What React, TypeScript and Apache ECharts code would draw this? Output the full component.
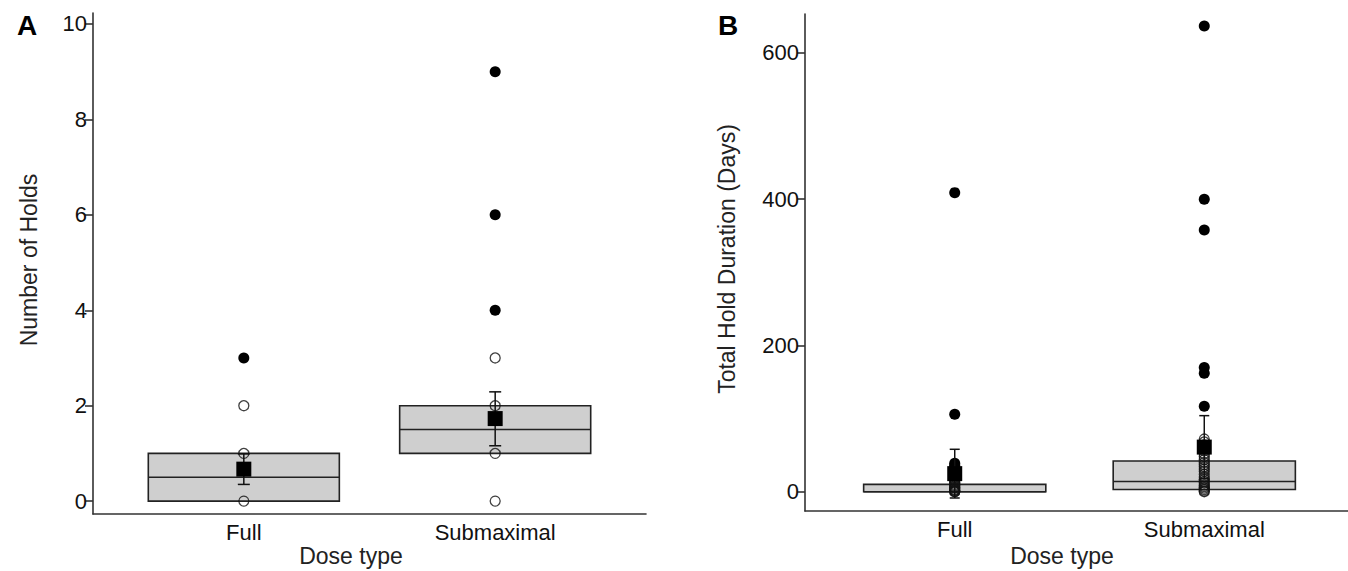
import React, { useEffect, useRef } from "react";
import * as echarts from "echarts";

// ---------- data ----------
const categories = ["Full", "Submaximal"];

// Panel A: Number of Holds
const holdsBox = [
  [0, 0.5, 1], // q1, median, q3 (Full)
  [1, 1.5, 2], // Submaximal
];
const holdsPointsFull = [0, 1, 2];
const holdsPointsSub = [0, 1, 2, 3];
const holdsOutliersFull = [3];
const holdsOutliersSub = [4, 6, 9];
const holdsMean = [0.67, 1.73];
const holdsErr = [
  [0.35, 0.99],
  [1.16, 2.29],
];
const holdsTicks = [0, 2, 4, 6, 8, 10];

// Panel B: Total Hold Duration (Days)
const durBox = [
  [0, 0, 10],
  [3, 14, 42],
];
const durPointsFull = [0, 0, 1, 2, 3, 5, 6, 8, 10, 12, 14, 16, 18, 20, 22, 24];
const durPointsSub = [0, 1, 3, 5, 7, 9, 12, 14, 17, 20, 24, 28, 31, 34, 37, 40, 44, 48, 52, 56, 60, 64, 68, 72];
const durOutliersFull = [27, 29, 31, 33, 36, 39, 106, 409];
const durOutliersSub = [117, 162, 170, 358, 400, 637];
const durMean = [24.7, 61];
const durErr = [
  [-8.6, 58],
  [18, 104],
];
const durTicks = [0, 200, 400, 600];

const FONT = "'Liberation Sans', Arial, sans-serif";
const TXT = "#111";
const AX = "#333";

function boxSeries(box: number[][], gi: number, halfW: number) {
  return {
    type: "custom",
    xAxisIndex: gi,
    yAxisIndex: gi,
    z: 1,
    data: box.map((b, i) => [i + 1, b[0], b[1], b[2]]),
    renderItem: (params: any, api: any) => {
      const x = api.value(0);
      const q1 = api.value(1);
      const med = api.value(2);
      const q3 = api.value(3);
      const tl = api.coord([x - halfW, q3]);
      const br = api.coord([x + halfW, q1]);
      const ml = api.coord([x - halfW, med]);
      const mr = api.coord([x + halfW, med]);
      return {
        type: "group",
        children: [
          {
            type: "rect",
            shape: { x: tl[0], y: tl[1], width: br[0] - tl[0], height: br[1] - tl[1] },
            style: { fill: "#cfcfcf", stroke: "#222", lineWidth: 1.6 },
          },
          {
            type: "line",
            shape: { x1: ml[0], y1: ml[1], x2: mr[0], y2: mr[1] },
            style: { stroke: "#222", lineWidth: 1.6 },
          },
        ],
      };
    },
  };
}

function errSeries(err: number[][], gi: number, capPx: number) {
  return {
    type: "custom",
    xAxisIndex: gi,
    yAxisIndex: gi,
    z: 5,
    data: err.map((e, i) => [i + 1, e[0], e[1]]),
    renderItem: (params: any, api: any) => {
      const x = api.value(0);
      const lo = api.coord([x, api.value(1)]);
      const hi = api.coord([x, api.value(2)]);
      const st = { stroke: "#111", lineWidth: 1.5 };
      return {
        type: "group",
        children: [
          { type: "line", shape: { x1: lo[0], y1: lo[1], x2: hi[0], y2: hi[1] }, style: st },
          { type: "line", shape: { x1: lo[0] - capPx, y1: lo[1], x2: lo[0] + capPx, y2: lo[1] }, style: st },
          { type: "line", shape: { x1: hi[0] - capPx, y1: hi[1], x2: hi[0] + capPx, y2: hi[1] }, style: st },
        ],
      };
    },
  };
}

function openPoints(full: number[], sub: number[], gi: number) {
  return {
    type: "scatter",
    xAxisIndex: gi,
    yAxisIndex: gi,
    z: 3,
    symbol: "circle",
    symbolSize: 10,
    itemStyle: { color: "rgba(255,255,255,0)", borderColor: "#111", borderWidth: 1.3 },
    data: [...full.map((v) => [1, v]), ...sub.map((v) => [2, v])],
  };
}

function filledPoints(full: number[], sub: number[], gi: number) {
  return {
    type: "scatter",
    xAxisIndex: gi,
    yAxisIndex: gi,
    z: 4,
    symbol: "circle",
    symbolSize: 11,
    itemStyle: { color: "#000", opacity: 1 },
    data: [...full.map((v) => [1, v]), ...sub.map((v) => [2, v])],
  };
}

function meanPoints(mean: number[], gi: number) {
  return {
    type: "scatter",
    xAxisIndex: gi,
    yAxisIndex: gi,
    z: 6,
    symbol: "rect",
    symbolSize: 15,
    itemStyle: { color: "#000", opacity: 1 },
    data: mean.map((v, i) => [i + 1, v]),
  };
}

function xAxis(gi: number) {
  return {
    type: "value",
    gridIndex: gi,
    min: 0.4,
    max: 2.6,
    splitLine: { show: false },
    axisLine: { show: true, onZero: false, lineStyle: { color: AX, width: 1.6 } },
    axisTick: { show: false },
    axisLabel: {
      customValues: [1, 2],
      formatter: (v: number) => categories[Math.round(v) - 1] ?? "",
      color: TXT,
      fontFamily: FONT,
      fontSize: 22,
      margin: 7,
    },
  };
}

function yAxis(gi: number, min: number, max: number, ticks: number[]) {
  return {
    type: "value",
    gridIndex: gi,
    min,
    max,
    splitLine: { show: false },
    axisLine: { show: true, onZero: false, lineStyle: { color: AX, width: 1.6 } },
    axisTick: { show: true, customValues: ticks, length: 8, lineStyle: { color: AX, width: 1.6 } },
    axisLabel: {
      customValues: ticks,
      color: TXT,
      fontFamily: FONT,
      fontSize: 22,
      margin: 6,
    },
  };
}

export default function App() {
  const ref = useRef<HTMLDivElement>(null);
  useEffect(() => {
    if (!ref.current) return;
    const chart = echarts.init(ref.current, undefined, { renderer: "svg" });
    const titleStyle = { fontFamily: FONT, fontSize: 23, fill: "#222" };
    chart.setOption({
      animation: false,
      backgroundColor: "#fff",
      grid: [
        { left: 93, top: 13, width: 553, height: 501, containLabel: false, outerBoundsMode: "none" },
        { left: 805, top: 14, width: 549, height: 497, containLabel: false, outerBoundsMode: "none" },
      ],
      xAxis: [xAxis(0), xAxis(1)],
      yAxis: [yAxis(0, -0.27, 10.23, holdsTicks), yAxis(1, -26.4, 653.3, durTicks)],
      series: [
        boxSeries(holdsBox, 0, 0.38),
        openPoints(holdsPointsFull, holdsPointsSub, 0),
        filledPoints(holdsOutliersFull, holdsOutliersSub, 0),
        meanPoints(holdsMean, 0),
        errSeries(holdsErr, 0, 6),
        boxSeries(durBox, 1, 0.365),
        openPoints(durPointsFull, durPointsSub, 1),
        filledPoints(durOutliersFull, durOutliersSub, 1),
        meanPoints(durMean, 1),
        errSeries(durErr, 1, 5),
      ],
      graphic: [
        { type: "text", x: 27, y: 25, style: { text: "A", fontFamily: FONT, fontSize: 28, fontWeight: "bold", fill: "#000", align: "center", verticalAlign: "middle" } },
        { type: "text", x: 728, y: 25, style: { text: "B", fontFamily: FONT, fontSize: 28, fontWeight: "bold", fill: "#000", align: "center", verticalAlign: "middle" } },
        { type: "text", x: 29, y: 260, rotation: Math.PI / 2, style: { ...titleStyle, text: "Number of Holds", align: "center", verticalAlign: "middle" } },
        { type: "text", x: 727, y: 259, rotation: Math.PI / 2, style: { ...titleStyle, text: "Total Hold Duration (Days)", align: "center", verticalAlign: "middle" } },
        { type: "text", x: 351, y: 556, style: { ...titleStyle, text: "Dose type", align: "center", verticalAlign: "middle" } },
        { type: "text", x: 1062, y: 556, style: { ...titleStyle, text: "Dose type", align: "center", verticalAlign: "middle" } },
      ],
    });
    return () => chart.dispose();
  }, []);
  return <div ref={ref} style={{ position: "fixed", left: 0, top: 0, width: 1348, height: 571 }} />;
}
